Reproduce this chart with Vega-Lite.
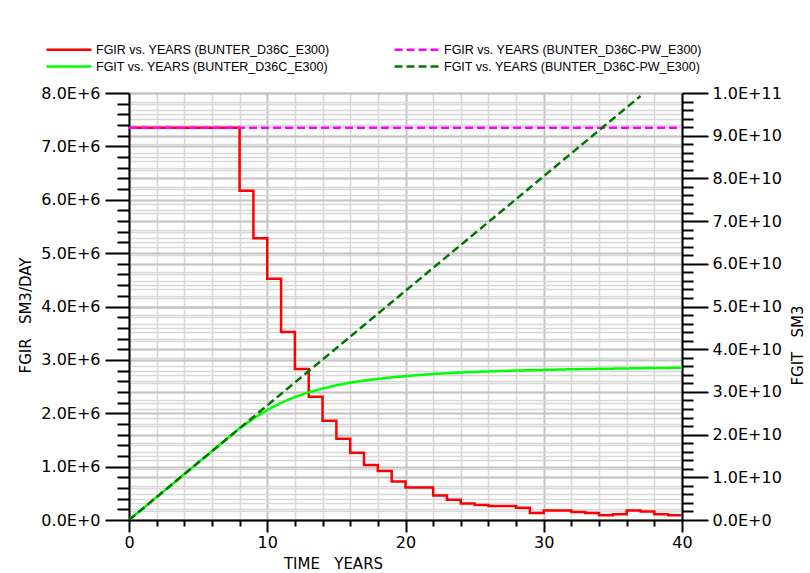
{
  "$schema": "https://vega.github.io/schema/vega-lite/v6.json",
  "width": 553,
  "height": 427,
  "autosize": {"type": "none"},
  "padding": {"left": 129, "top": 93, "right": 128, "bottom": 53},
  "background": "white",
  "config": {
    "view": {"stroke": null},
    "font": "DejaVu Sans",
    "axis": {
      "domainColor": "black",
      "domainWidth": 2,
      "tickColor": "black",
      "tickWidth": 2,
      "labelColor": "black",
      "labelFont": "DejaVu Sans",
      "labelFontSize": 16,
      "titleColor": "black",
      "titleFont": "DejaVu Sans",
      "titleFontSize": 15,
      "titleFontWeight": "normal",
      "labelOverlap": false,
      "labelFlush": false,
      "tickCount": 200
    },
    "legend": {
      "labelFont": "Liberation Sans",
      "labelFontSize": 12.5,
      "labelColor": "black",
      "labelLimit": 0
    }
  },
  "datasets": {
    "series": [
      {"s": "FGIR vs. YEARS (BUNTER_D36C_E300)", "t": 0, "v": 7350000},
      {"s": "FGIR vs. YEARS (BUNTER_D36C_E300)", "t": 8, "v": 6170000},
      {"s": "FGIR vs. YEARS (BUNTER_D36C_E300)", "t": 9, "v": 5280000},
      {"s": "FGIR vs. YEARS (BUNTER_D36C_E300)", "t": 10, "v": 4520000},
      {"s": "FGIR vs. YEARS (BUNTER_D36C_E300)", "t": 11, "v": 3520000},
      {"s": "FGIR vs. YEARS (BUNTER_D36C_E300)", "t": 12, "v": 2830000},
      {"s": "FGIR vs. YEARS (BUNTER_D36C_E300)", "t": 13, "v": 2310000},
      {"s": "FGIR vs. YEARS (BUNTER_D36C_E300)", "t": 14, "v": 1860000},
      {"s": "FGIR vs. YEARS (BUNTER_D36C_E300)", "t": 15, "v": 1520000},
      {"s": "FGIR vs. YEARS (BUNTER_D36C_E300)", "t": 16, "v": 1260000},
      {"s": "FGIR vs. YEARS (BUNTER_D36C_E300)", "t": 17, "v": 1030000},
      {"s": "FGIR vs. YEARS (BUNTER_D36C_E300)", "t": 18, "v": 920000},
      {"s": "FGIR vs. YEARS (BUNTER_D36C_E300)", "t": 19, "v": 720000},
      {"s": "FGIR vs. YEARS (BUNTER_D36C_E300)", "t": 20, "v": 610000},
      {"s": "FGIR vs. YEARS (BUNTER_D36C_E300)", "t": 22, "v": 460000},
      {"s": "FGIR vs. YEARS (BUNTER_D36C_E300)", "t": 23, "v": 380000},
      {"s": "FGIR vs. YEARS (BUNTER_D36C_E300)", "t": 24, "v": 310000},
      {"s": "FGIR vs. YEARS (BUNTER_D36C_E300)", "t": 25, "v": 280000},
      {"s": "FGIR vs. YEARS (BUNTER_D36C_E300)", "t": 26, "v": 260000},
      {"s": "FGIR vs. YEARS (BUNTER_D36C_E300)", "t": 28, "v": 230000},
      {"s": "FGIR vs. YEARS (BUNTER_D36C_E300)", "t": 29, "v": 130000},
      {"s": "FGIR vs. YEARS (BUNTER_D36C_E300)", "t": 30, "v": 180000},
      {"s": "FGIR vs. YEARS (BUNTER_D36C_E300)", "t": 32, "v": 150000},
      {"s": "FGIR vs. YEARS (BUNTER_D36C_E300)", "t": 33, "v": 130000},
      {"s": "FGIR vs. YEARS (BUNTER_D36C_E300)", "t": 34, "v": 90000},
      {"s": "FGIR vs. YEARS (BUNTER_D36C_E300)", "t": 35, "v": 110000},
      {"s": "FGIR vs. YEARS (BUNTER_D36C_E300)", "t": 36, "v": 180000},
      {"s": "FGIR vs. YEARS (BUNTER_D36C_E300)", "t": 37, "v": 160000},
      {"s": "FGIR vs. YEARS (BUNTER_D36C_E300)", "t": 38, "v": 110000},
      {"s": "FGIR vs. YEARS (BUNTER_D36C_E300)", "t": 39, "v": 90000},
      {"s": "FGIR vs. YEARS (BUNTER_D36C_E300)", "t": 40, "v": 90000},
      {"s": "FGIR vs. YEARS (BUNTER_D36C-PW_E300)", "t": 0, "v": 7350000},
      {"s": "FGIR vs. YEARS (BUNTER_D36C-PW_E300)", "t": 40, "v": 7350000},
      {"s": "FGIT vs. YEARS (BUNTER_D36C_E300)", "t": 0, "v": 0},
      {"s": "FGIT vs. YEARS (BUNTER_D36C_E300)", "t": 2, "v": 5370000000},
      {"s": "FGIT vs. YEARS (BUNTER_D36C_E300)", "t": 4, "v": 10740000000},
      {"s": "FGIT vs. YEARS (BUNTER_D36C_E300)", "t": 6, "v": 16110000000},
      {"s": "FGIT vs. YEARS (BUNTER_D36C_E300)", "t": 8, "v": 21480000000},
      {"s": "FGIT vs. YEARS (BUNTER_D36C_E300)", "t": 9, "v": 23750000000},
      {"s": "FGIT vs. YEARS (BUNTER_D36C_E300)", "t": 10, "v": 25750000000},
      {"s": "FGIT vs. YEARS (BUNTER_D36C_E300)", "t": 11, "v": 27450000000},
      {"s": "FGIT vs. YEARS (BUNTER_D36C_E300)", "t": 12, "v": 28800000000},
      {"s": "FGIT vs. YEARS (BUNTER_D36C_E300)", "t": 13, "v": 29900000000},
      {"s": "FGIT vs. YEARS (BUNTER_D36C_E300)", "t": 14, "v": 30800000000},
      {"s": "FGIT vs. YEARS (BUNTER_D36C_E300)", "t": 15, "v": 31550000000},
      {"s": "FGIT vs. YEARS (BUNTER_D36C_E300)", "t": 16, "v": 32150000000},
      {"s": "FGIT vs. YEARS (BUNTER_D36C_E300)", "t": 17, "v": 32650000000},
      {"s": "FGIT vs. YEARS (BUNTER_D36C_E300)", "t": 18, "v": 33050000000},
      {"s": "FGIT vs. YEARS (BUNTER_D36C_E300)", "t": 19, "v": 33400000000},
      {"s": "FGIT vs. YEARS (BUNTER_D36C_E300)", "t": 20, "v": 33700000000},
      {"s": "FGIT vs. YEARS (BUNTER_D36C_E300)", "t": 22, "v": 34200000000},
      {"s": "FGIT vs. YEARS (BUNTER_D36C_E300)", "t": 24, "v": 34550000000},
      {"s": "FGIT vs. YEARS (BUNTER_D36C_E300)", "t": 26, "v": 34800000000},
      {"s": "FGIT vs. YEARS (BUNTER_D36C_E300)", "t": 28, "v": 35000000000},
      {"s": "FGIT vs. YEARS (BUNTER_D36C_E300)", "t": 30, "v": 35150000000},
      {"s": "FGIT vs. YEARS (BUNTER_D36C_E300)", "t": 32, "v": 35300000000},
      {"s": "FGIT vs. YEARS (BUNTER_D36C_E300)", "t": 34, "v": 35400000000},
      {"s": "FGIT vs. YEARS (BUNTER_D36C_E300)", "t": 36, "v": 35500000000},
      {"s": "FGIT vs. YEARS (BUNTER_D36C_E300)", "t": 38, "v": 35600000000},
      {"s": "FGIT vs. YEARS (BUNTER_D36C_E300)", "t": 40, "v": 35650000000},
      {"s": "FGIT vs. YEARS (BUNTER_D36C-PW_E300)", "t": 0, "v": 0},
      {"s": "FGIT vs. YEARS (BUNTER_D36C-PW_E300)", "t": 37.0, "v": 99300000000}
    ]
  },
  "data": {"name": "series"},
  "layer": [
    {
      "layer": [
        {
          "transform": [{"filter": "datum.s === 'FGIR vs. YEARS (BUNTER_D36C_E300)'"}],
          "mark": {"type": "line", "interpolate": "step-after", "strokeWidth": 2.5, "clip": true},
          "encoding": {
            "x": {
              "field": "t", "type": "quantitative",
              "scale": {"domain": [0, 40], "nice": false, "zero": false},
              "axis": {
                "title": "TIME\u00a0\u00a0\u00a0YEARS",
                "values": [0, 2, 4, 6, 8, 10, 12, 14, 16, 18, 20, 22, 24, 26, 28, 30, 32, 34, 36, 38, 40],
                "labelExpr": "datum.value % 10 === 0 ? format(datum.value, 'd') : ''",
                "tickSize": {"condition": {"test": "datum.value % 10 === 0", "value": 12}, "value": 6},
                "grid": true,
                "gridColor": {"condition": {"test": "datum.value % 10 === 0", "value": "#c4c4c4"}, "value": "#d8d8d8"},
                "gridWidth": {"condition": {"test": "datum.value % 10 === 0", "value": 2}, "value": 1.5},
                "labelPadding": 2,
                "titleX": 204,
                "titleY": 43,
                "titleAlign": "center",
                "titleBaseline": "middle"
              }
            },
            "y": {
              "field": "v", "type": "quantitative",
              "scale": {"domain": [0, 8000000], "nice": false},
              "axis": {
                "orient": "left",
                "title": "FGIR\u00a0\u00a0\u00a0SM3/DAY",
                "values": [0, 200000, 400000, 600000, 800000, 1000000, 1200000, 1400000, 1600000, 1800000, 2000000, 2200000, 2400000, 2600000, 2800000, 3000000, 3200000, 3400000, 3600000, 3800000, 4000000, 4200000, 4400000, 4600000, 4800000, 5000000, 5200000, 5400000, 5600000, 5800000, 6000000, 6200000, 6400000, 6600000, 6800000, 7000000, 7200000, 7400000, 7600000, 7800000, 8000000],
                "labelExpr": "datum.value % 1000000 === 0 ? (datum.value === 0 ? '0.0E+0' : format(datum.value / 1000000, '.1f') + 'E+6') : ''",
                "tickSize": {"condition": {"test": "datum.value % 1000000 === 0", "value": 24}, "value": 12},
                "grid": true,
                "gridColor": {"condition": {"test": "datum.value % 1000000 === 0", "value": "#c4c4c4"}, "value": "#d8d8d8"},
                "gridWidth": {"condition": {"test": "datum.value % 1000000 === 0", "value": 2}, "value": 1.5},
                "labelPadding": 5,
                "titleAngle": -90,
                "titleX": -104,
                "titleY": 222,
                "titleAlign": "center",
                "titleBaseline": "middle"
              }
            },
            "color": {
              "field": "s", "type": "nominal",
              "scale": {
                "domain": ["FGIR vs. YEARS (BUNTER_D36C_E300)", "FGIT vs. YEARS (BUNTER_D36C_E300)", "FGIR vs. YEARS (BUNTER_D36C-PW_E300)", "FGIT vs. YEARS (BUNTER_D36C-PW_E300)"],
                "range": ["#ff0000", "#00ff00", "#ff00ff", "#007800"]
              },
              "legend": {
                "title": null, "orient": "none", "legendX": -69, "legendY": -52.5,
                "columns": 2, "columnPadding": 59, "rowPadding": 1,
                "symbolType": "M-3,0H3", "symbolSize": 225, "symbolStrokeWidth": 2.5, "labelOffset": 18
              }
            },
            "strokeDash": {
              "field": "s", "type": "nominal",
              "scale": {
                "domain": ["FGIR vs. YEARS (BUNTER_D36C_E300)", "FGIT vs. YEARS (BUNTER_D36C_E300)", "FGIR vs. YEARS (BUNTER_D36C-PW_E300)", "FGIT vs. YEARS (BUNTER_D36C-PW_E300)"],
                "range": [[1, 0], [1, 0], [8, 4], [8, 4]]
              },
              "legend": {
                "title": null, "orient": "none", "legendX": -69, "legendY": -52.5,
                "columns": 2, "columnPadding": 59, "rowPadding": 1,
                "symbolType": "M-3,0H3", "symbolSize": 225, "symbolStrokeWidth": 2.5, "labelOffset": 18
              }
            }
          }
        },
        {
          "transform": [{"filter": "datum.s === 'FGIR vs. YEARS (BUNTER_D36C-PW_E300)'"}],
          "mark": {"type": "line", "strokeWidth": 2.5, "clip": true},
          "encoding": {
            "x": {"field": "t", "type": "quantitative"},
            "y": {"field": "v", "type": "quantitative"},
            "color": {"field": "s", "type": "nominal"},
            "strokeDash": {"field": "s", "type": "nominal"}
          }
        }
      ]
    },
    {
      "layer": [
        {
          "transform": [{"filter": "datum.s === 'FGIT vs. YEARS (BUNTER_D36C_E300)'"}],
          "mark": {"type": "line", "strokeWidth": 2.5, "clip": true},
          "encoding": {
            "x": {"field": "t", "type": "quantitative"},
            "y": {
              "field": "v", "type": "quantitative",
              "scale": {"domain": [0, 100000000000], "nice": false},
              "axis": {
                "orient": "right",
                "title": "FGIT\u00a0\u00a0\u00a0SM3",
                "values": [0, 2000000000, 4000000000, 6000000000, 8000000000, 10000000000, 12000000000, 14000000000, 16000000000, 18000000000, 20000000000, 22000000000, 24000000000, 26000000000, 28000000000, 30000000000, 32000000000, 34000000000, 36000000000, 38000000000, 40000000000, 42000000000, 44000000000, 46000000000, 48000000000, 50000000000, 52000000000, 54000000000, 56000000000, 58000000000, 60000000000, 62000000000, 64000000000, 66000000000, 68000000000, 70000000000, 72000000000, 74000000000, 76000000000, 78000000000, 80000000000, 82000000000, 84000000000, 86000000000, 88000000000, 90000000000, 92000000000, 94000000000, 96000000000, 98000000000, 100000000000],
                "labelExpr": "datum.value % 10000000000 === 0 ? (datum.value === 0 ? '0.0E+0' : (datum.value === 100000000000 ? '1.0E+11' : format(datum.value / 10000000000, '.1f') + 'E+10')) : ''",
                "tickSize": {"condition": {"test": "datum.value % 10000000000 === 0", "value": 26}, "value": 11},
                "grid": true,
                "gridColor": {"condition": {"test": "datum.value % 10000000000 === 0", "value": "#c4c4c4"}, "value": "#d8d8d8"},
                "gridWidth": {"condition": {"test": "datum.value % 10000000000 === 0", "value": 2}, "value": 1.5},
                "labelPadding": 4,
                "titleAngle": -90,
                "titleX": 115,
                "titleY": 252,
                "titleAlign": "center",
                "titleBaseline": "middle"
              }
            },
            "color": {"field": "s", "type": "nominal"},
            "strokeDash": {"field": "s", "type": "nominal"}
          }
        },
        {
          "transform": [{"filter": "datum.s === 'FGIT vs. YEARS (BUNTER_D36C-PW_E300)'"}],
          "mark": {"type": "line", "strokeWidth": 2.5, "clip": true},
          "encoding": {
            "x": {"field": "t", "type": "quantitative"},
            "y": {"field": "v", "type": "quantitative"},
            "color": {"field": "s", "type": "nominal"},
            "strokeDash": {"field": "s", "type": "nominal"}
          }
        }
      ]
    }
  ],
  "resolve": {"scale": {"y": "independent"}}
}
